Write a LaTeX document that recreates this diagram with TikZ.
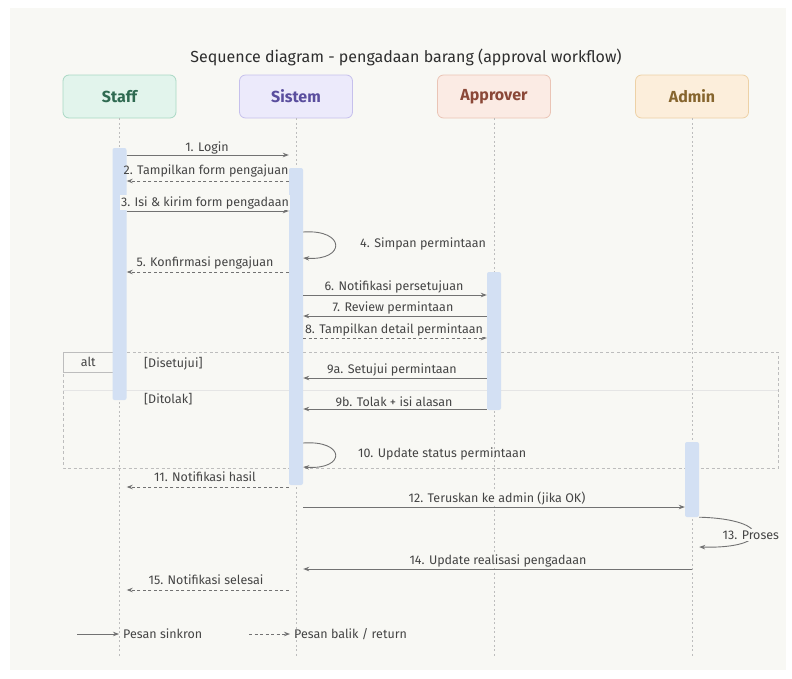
\documentclass[tikz,border=0pt]{standalone}
\usepackage{fontspec}
\setmainfont{Fira Sans}
\usetikzlibrary{arrows.meta}

\definecolor{page}{HTML}{FFFFFF}
\definecolor{panel}{HTML}{F8F8F4}
\definecolor{ink}{HTML}{444444}
\definecolor{wire}{HTML}{727272}
\definecolor{life}{HTML}{BDBDBD}
\definecolor{actfill}{HTML}{D3E0F3}
\definecolor{staffFill}{HTML}{E2F4EC}\definecolor{staffLine}{HTML}{A9D8C4}\definecolor{staffText}{HTML}{2F6A51}
\definecolor{sisFill}{HTML}{ECEAFB}\definecolor{sisLine}{HTML}{C6C0EC}\definecolor{sisText}{HTML}{5A4E9E}
\definecolor{appFill}{HTML}{FBEBE4}\definecolor{appLine}{HTML}{EAC4B5}\definecolor{appText}{HTML}{8B4838}
\definecolor{admFill}{HTML}{FCEEDB}\definecolor{admLine}{HTML}{EDD1A6}\definecolor{admText}{HTML}{86652E}

\tikzset{
  header/.style={draw, line width=0.8pt, rounded corners=6pt, minimum width=113pt,
    minimum height=43pt, inner sep=0pt, font=\fontsize{16}{18}\selectfont\bfseries},
  lifeline/.style={draw=life, line width=0.7pt, dash pattern=on 2pt off 2.5pt},
  act/.style={fill=actfill, draw=none, rounded corners=2pt, minimum width=14pt, inner sep=0pt},
  sync/.style={draw=wire, line width=0.9pt, -{Stealth[length=6pt,width=4.5pt]}},
  reply/.style={draw=wire, line width=0.9pt, dash pattern=on 3pt off 2.5pt, -{Stealth[length=6pt,width=4.5pt]}},
  msg/.style={fill=panel, inner sep=1.5pt, text=ink, font=\fontsize{12.5}{14}\selectfont},
  txt/.style={text=ink, inner sep=1pt, font=\fontsize{12.5}{14}\selectfont},
}

\begin{document}
\begin{tikzpicture}[x=1pt, y=-1pt]
  % canvas
  \fill[page] (0,0) rectangle (792,678);
  \useasboundingbox (0,0) rectangle (792,678);
  \fill[panel] (10,8) rectangle (786,670);

  % title
  \node[text=black!82, font=\fontsize{16}{19}\selectfont] (title) at (406,57)
    {Sequence diagram - pengadaan barang (approval workflow)};

  % participants
  \node[header, fill=staffFill, draw=staffLine, text=staffText] (staff) at (119.5,96.5) {Staff};
  \node[header, fill=sisFill, draw=sisLine, text=sisText] (sistem) at (296,96.5) {Sistem};
  \node[header, fill=appFill, draw=appLine, text=appText] (approver) at (494,96.5) {Approver};
  \node[header, fill=admFill, draw=admLine, text=admText] (admin) at (692,96.5) {Admin};

  % lifelines
  \coordinate (staffEnd) at (119.5,656);
  \coordinate (sistemEnd) at (296,656);
  \coordinate (approverEnd) at (494,656);
  \coordinate (adminEnd) at (692,656);
  \draw[lifeline] (staff.south) -- (staffEnd);
  \draw[lifeline] (sistem.south) -- (sistemEnd);
  \draw[lifeline] (approver.south) -- (approverEnd);
  \draw[lifeline] (admin.south) -- (adminEnd);

  % combined fragment: alt
  \draw[draw=life, line width=0.7pt, dash pattern=on 3pt off 2.5pt] (63,352) rectangle (778,468);
  \draw[draw=life!40, line width=0.5pt] (63,390) -- (778,390);
  \node[draw=life, line width=0.5pt, fill=panel, minimum width=50pt, minimum height=20pt,
        inner sep=0pt, anchor=north west, txt] (altTag) at (63,352) {alt};
  \node[txt, anchor=west] (guardA) at (143,364) {[Disetujui]};
  \node[txt, anchor=west] (guardB) at (143,399) {[Ditolak]};

  % activation bars
  \node[act, minimum height=252pt] (aStaff) at (119.5,274) {};
  \node[act, minimum height=317pt] (aSistem) at (296,326.5) {};
  \node[act, minimum height=138pt] (aApprover) at (494,341) {};
  \node[act, minimum height=75pt] (aAdmin) at (692,479.5) {};

  % Staff <-> Sistem
  \draw[sync] (aStaff.east |- 0,155) -- (aSistem.west |- 0,155);
  \node[msg, anchor=base] (m1) at (207,151) {1. Login};
  \draw[reply] (aSistem.west |- 0,181) -- (aStaff.east |- 0,181);
  \node[txt, anchor=base] (m2) at (206,174) {2. Tampilkan form pengajuan};
  \draw[sync] (aStaff.east |- 0,211) -- (aSistem.west |- 0,211);
  \node[msg, anchor=base] (m3) at (205,206) {3. Isi \& kirim form pengadaan};

  % 4: self call on Sistem
  \draw[sync] (aSistem.east |- 0,232) .. controls (346,229) and (346,261) .. (aSistem.east |- 0,258);
  \node[txt, anchor=west] (m4) at (359,244) {4. Simpan permintaan};

  \draw[reply] (aSistem.west |- 0,272) -- (aStaff.east |- 0,272);
  \node[txt, anchor=base] (m5) at (205,266) {5. Konfirmasi pengajuan};

  % Sistem <-> Approver
  \draw[sync] (aSistem.east |- 0,295) -- (aApprover.west |- 0,295);
  \node[msg, anchor=base] (m6) at (394,290) {6. Notifikasi persetujuan};
  \draw[sync] (aApprover.west |- 0,316) -- (aSistem.east |- 0,316);
  \node[msg, anchor=base] (m7) at (393,311) {7. Review permintaan};
  \draw[reply] (aSistem.east |- 0,338) -- (aApprover.west |- 0,338);
  \node[msg, anchor=base] (m8) at (394,333) {8. Tampilkan detail permintaan};

  % alt branches
  \draw[sync] (aApprover.west |- 0,378) -- (aSistem.east |- 0,378);
  \node[msg, anchor=base] (m9a) at (392,373) {9a. Setujui permintaan};
  \draw[sync] (aApprover.west |- 0,409) -- (aSistem.east |- 0,409);
  \node[msg, anchor=base] (m9b) at (394,406) {9b. Tolak + isi alasan};

  % 10: self call on Sistem
  \draw[sync] (aSistem.east |- 0,443) .. controls (346,440) and (346,470) .. (aSistem.east |- 0,467);
  \node[txt, anchor=west] (m10) at (357,454) {10. Update status permintaan};

  \draw[reply] (aSistem.west |- 0,487) -- (aStaff.east |- 0,487);
  \node[txt, anchor=base] (m11) at (205,481) {11. Notifikasi hasil};

  % Sistem -> Admin
  \draw[sync] (aSistem.east |- 0,507) -- (aAdmin.west |- 0,507);
  \node[msg, anchor=base] (m12) at (497,502) {12. Teruskan ke admin (jika OK)};

  % 13: Admin processing
  \draw[sync] (aAdmin.south east) .. controls (772,519) and (772,549) .. (aAdmin.east |- 0,547);
  \node[msg, anchor=west] (m13) at (721,535) {13. Proses};

  \draw[sync] (692,569) -- (aSistem.east |- 0,569);
  \node[msg, anchor=base] (m14) at (498,564) {14. Update realisasi pengadaan};
  \draw[reply] (aSistem.west |- 0,590) -- (aStaff.east |- 0,590);
  \node[txt, anchor=base] (m15) at (206,584) {15. Notifikasi selesai};

  % legend
  \node[txt, anchor=west] (legSync) at (122,634) {Pesan sinkron};
  \node[txt, anchor=west] (legReply) at (293,634) {Pesan balik / return};
  \coordinate (legSyncStart) at (77,634);
  \coordinate (legReplyStart) at (249,634);
  \draw[sync, line width=0.8pt] (legSyncStart) -- ([xshift=-3pt]legSync.west);
  \draw[reply, line width=0.8pt] (legReplyStart) -- ([xshift=-3pt]legReply.west);
\end{tikzpicture}
\end{document}
